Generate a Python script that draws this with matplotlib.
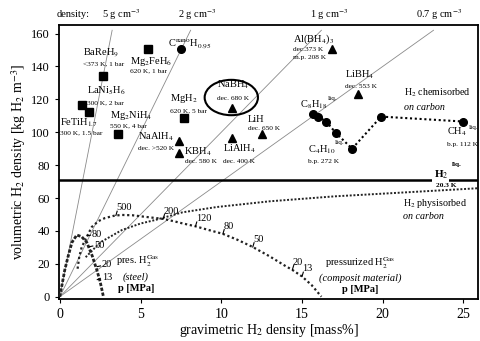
import matplotlib
matplotlib.use("Agg")
import matplotlib.pyplot as plt
from matplotlib.patches import Ellipse
import numpy as np

plt.rcParams['font.family'] = ['Liberation Serif', 'DejaVu Serif']
plt.rcParams['mathtext.fontset'] = 'stix'

# ---------------- data ----------------
densities = [5, 2, 1, 0.7]                       # g cm^-3 (constant density lines)
density_labels = ['5 g cm$^{-3}$', '2 g cm$^{-3}$', '1 g cm$^{-3}$', '0.7 g cm$^{-3}$']

metal_names = ['BaReH9', 'Mg2FeH6', 'LaNi5H6', 'FeTiH1.7', 'Mg2NiH4', 'MgH2']
metal_x = [2.66, 5.45, 1.36, 1.80, 3.60, 7.68]
metal_y = [134.0, 150.5, 116.5, 112.0, 98.8, 108.5]

complex_names = ['NaBH4', 'NaAlH4', 'KBH4', 'LiAlH4', 'LiH', 'Al(BH4)3', 'LiBH4']
complex_x = [10.65, 7.37, 7.37, 10.65, 12.5, 16.84, 18.45]
complex_y = [114.7, 94.6, 87.3, 96.4, 98.9, 150.5, 123.0]

carbon_x = [7.49]
carbon_y = [150.5]

hc_x = [15.7, 16.0, 16.5, 17.1, 18.1, 19.9, 25.0]
hc_y = [111.0, 109.5, 106.5, 99.5, 90.0, 109.5, 106.5]

h2_liquid = 70.8

steel_x = [0.0, 0.15, 0.3, 0.5, 0.75, 1.05, 1.35, 1.67, 2.0, 2.3, 2.5, 2.7]
steel_y = [0.0, 8.0, 16.0, 24.0, 33.0, 37.5, 36.5, 33.0, 25.0, 16.0, 9.0, 0.0]
steel_p = ['80', '50', '20', '13']

comp_x = [1.1, 1.2, 1.35, 1.7, 1.98, 2.4, 2.79, 3.4, 3.84, 4.5, 5.08, 5.6, 6.4, 7.1,
          7.5, 8.4, 9.2, 10.1, 11.0, 11.95, 13.0, 14.0, 14.4, 15.0, 15.6, 16.2]
comp_y = [17.0, 24.0, 30.0, 37.0, 42.4, 46.0, 47.8, 49.3, 49.7, 49.5, 48.8, 48.2, 47.3, 45.8,
          44.8, 42.8, 40.6, 38.2, 34.6, 30.2, 24.5, 18.5, 16.3, 12.3, 7.0, 0.0]
comp_p = ['500', '200', '120', '80', '50', '20', '13']
comp_p_x = [3.47, 6.4, 8.4, 10.1, 11.95, 14.4, 15.0]

phys_x = [1.6, 2.5, 3.84, 5.0, 5.9, 7.6, 9.7, 13.0, 15.0, 17.0, 21.0, 26.0]
phys_y = [24.0, 33.0, 40.5, 44.5, 46.6, 51.3, 54.5, 58.0, 59.5, 61.0, 63.2, 66.0]

# ---------------- figure ----------------
fig = plt.figure(figsize=(4.81, 3.41), dpi=100)
ax = fig.add_axes([0.1227, 0.1232, 0.8711, 0.8035])
ax.set_xlim(-0.05, 25.9)
ax.set_ylim(-1.4, 165.2)

# constant density lines
for rho in densities:
    ytop = 162.0
    ax.plot([0, ytop / (10 * rho)], [0, ytop], color='#8a8a8a', lw=0.6, zorder=1)

# H2 liquid line
ax.axhline(h2_liquid, color='black', lw=1.8, zorder=2)

# curves
ax.plot(steel_x, steel_y, color='#222222', lw=2.0, ls=(0, (1.2, 0.6)), zorder=3)
ax.plot(comp_x, comp_y, color='#222222', lw=1.6, ls=(0, (1, 1.2)), zorder=3)
ax.plot(phys_x, phys_y, color='#222222', lw=1.4, ls=(0, (1, 0.9)), zorder=3)
ax.plot(hc_x, hc_y, color='black', lw=1.5, ls=(0, (1, 1.3)), zorder=3)

# markers
ax.plot(metal_x, metal_y, 's', color='black', ms=5.5, zorder=4)
ax.plot(complex_x, complex_y, '^', color='black', ms=5.5, zorder=4)
ax.plot(carbon_x, carbon_y, 'o', color='black', ms=5.5, zorder=4)
ax.plot(hc_x, hc_y, 'o', color='black', ms=5.5, zorder=4)

# pressure ticks on composite curve
comp_arr_x = np.array(comp_x)
comp_arr_y = np.array(comp_y)
peak = int(np.argmax(comp_arr_y))
for lab, px in zip(comp_p, comp_p_x):
    if px > comp_arr_x[peak]:
        py = np.interp(px, comp_arr_x[peak:], comp_arr_y[peak:])
    else:
        py = np.interp(px, comp_arr_x[:peak + 1], comp_arr_y[:peak + 1])
    ax.plot([px, px + 0.08], [py, py + 2.6], color='black', lw=0.8, zorder=4)
    ax.text(px + 0.02, py + 4.6, lab, fontsize=7.5, ha='left', va='center')

# steel pressure labels
steel_lab_pos = [(1.98, 38.0), (2.12, 31.4), (2.6, 19.3), (2.6, 11.4)]
for lab, (tx, ty) in zip(steel_p, steel_lab_pos):
    ax.plot([tx - 0.28, tx - 0.08], [ty - 1.0, ty - 0.6], color='black', lw=0.8, zorder=4)
    ax.text(tx, ty, lab, fontsize=7.5, ha='left', va='center')

# ellipse around NaBH4
ax.add_patch(Ellipse((10.62, 121.1), 3.3, 21.5, fill=False, lw=1.5, ec='black', zorder=4))

# ---------------- labels ----------------
big = 7.5
small = 5.3
texts = [
    ("BaReH$_9$", 1.42, 148.1, big), ("<373 K, 1 bar", 1.42, 141.4, small),
    ("Mg$_2$FeH$_6$", 4.33, 143.3, big), ("620 K, 1 bar", 4.33, 137.2, small),
    ("C$^{\\rm nano}$H$_{0.95}$", 6.69, 154.2, big),
    ("LaNi$_5$H$_6$", 1.67, 125.0, big), ("300 K, 2 bar", 1.67, 117.7, small),
    ("FeTiH$_{1.7}$", -0.02, 106.0, big), ("300 K, 1.5 bar", -0.02, 99.4, small),
    ("Mg$_2$NiH$_4$", 3.1, 110.4, big), ("550 K, 4 bar", 3.1, 103.8, small),
    ("MgH$_2$", 6.81, 120.8, big), ("620 K, 5 bar", 6.81, 112.9, small),
    ("NaAlH$_4$", 4.83, 97.1, big), ("dec. >520 K", 4.83, 90.4, small),
    ("KBH$_4$", 7.68, 88.0, big), ("dec. 580 K", 7.74, 81.9, small),
    ("NaBH$_4$", 9.72, 128.7, big), ("dec. 680 K", 9.72, 120.8, small),
    ("LiH", 11.64, 108.0, big), ("dec. 650 K", 11.64, 102.5, small),
    ("LiAlH$_4$", 10.1, 89.8, big), ("dec. 400 K", 10.1, 81.9, small),
    ("Al(BH$_4$)$_3$", 14.43, 156.6, big), ("dec.373 K", 14.43, 150.6, small),
    ("m.p. 208 K", 14.43, 145.7, small),
    ("LiBH$_4$", 17.65, 134.7, big), ("dec. 553 K", 17.65, 127.5, small),
    ("C$_8$H$_{18}$", 14.86, 116.6, big), ("liq.", 16.6, 120.8, small),
    ("C$_4$H$_{10}$", 15.36, 89.2, big), ("b.p. 272 K", 15.36, 82.5, small),
    ("liq.", 17.03, 94.0, small),
    ("CH$_4$", 24.0, 100.1, big), ("liq.", 25.3, 103.0, small),
    ("b.p. 112 K", 24.0, 92.8, small),
    ("H$_2$ chemisorbed", 21.3, 123.8, 7.2),
    ("H$_2$ physisorbed", 21.24, 56.9, 7.2),
    ("pres. H$_2^{\\rm Gas}$", 3.5, 21.5, big),
]
for s, x, y, fs in texts:
    ax.text(x, y, s, fontsize=fs, ha='left', va='center', zorder=5)

ax.text(21.3, 115.3, "on carbon", fontsize=7.2, style='italic', ha='left', va='center')
ax.text(21.24, 49.0, "on carbon", fontsize=7.2, style='italic', ha='left', va='center')

# H2 liquid label with white background
ax.text(23.6, 74.0, "H$_2$", fontsize=8, fontweight='bold', ha='center', va='center',
        bbox=dict(fc='white', ec='none', pad=1.0), zorder=5)
ax.text(24.25, 80.5, "liq.", fontsize=small, fontweight='bold', ha='left', va='center', zorder=6)
ax.text(23.95, 67.6, "20.3 K", fontsize=small, fontweight='bold', ha='center', va='center',
        bbox=dict(fc='white', ec='none', pad=0.3), zorder=5)

# pressurized gas labels
ax.text(18.6, 20.5, "pressurized H$_2^{\\rm Gas}$", fontsize=big, ha='center', va='center')
ax.text(18.6, 11.4, "(composit material)", fontsize=big, style='italic', ha='center', va='center')
ax.text(18.6, 4.4, "p [MPa]", fontsize=big, fontweight='bold', ha='center', va='center')
ax.text(4.7, 11.9, "(steel)", fontsize=big, style='italic', ha='center', va='center')
ax.text(4.7, 4.9, "p [MPa]", fontsize=big, fontweight='bold', ha='center', va='center')

# density labels on top
dens_lab_x = [3.8, 8.5, 16.7, 23.5]
ax.text(-0.2, 171.5, "density:", fontsize=7.5, ha='left', va='center', clip_on=False)
for lab, x in zip(density_labels, dens_lab_x):
    ax.text(x, 171.5, lab, fontsize=7.5, ha='center', va='center', clip_on=False)

# axes styling
ax.set_xticks([0, 5, 10, 15, 20, 25])
ax.set_yticks(range(0, 161, 20))
ax.tick_params(direction='out', length=3, width=0.8, labelsize=10, top=False, right=False)
ax.tick_params(axis='y', labelsize=9)
for sp in ax.spines.values():
    sp.set_linewidth(1.3)
ax.set_xlabel("gravimetric H$_2$ density [mass%]", fontsize=10, labelpad=1)
ax.set_ylabel("volumetric H$_2$ density [kg H$_2$ m$^{-3}$]", fontsize=10, labelpad=2)

fig.savefig("out.png", dpi=100)
